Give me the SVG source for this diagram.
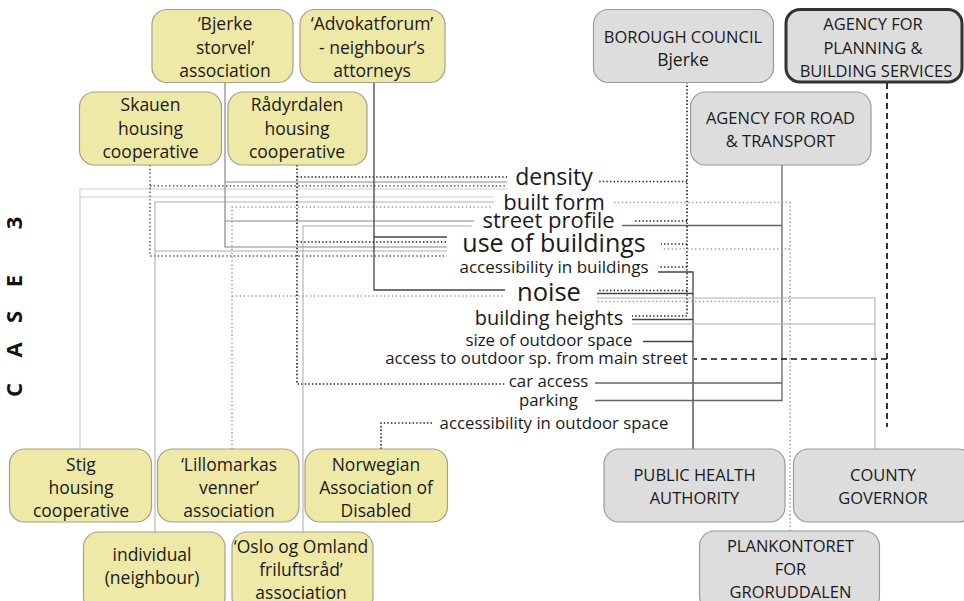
<svg xmlns="http://www.w3.org/2000/svg" width="964" height="601" viewBox="0 0 964 601">
<style>
.ny rect{fill:#efe9a8;stroke:#a3a08a;stroke-width:1.2}
.ng rect{fill:#dddddd;stroke:#9a9a9a;stroke-width:1.2}
.nt{font-family:"Open Sans","Noto Sans",sans-serif;font-size:17.5px;fill:#1a1a1a;text-anchor:middle}
.nu{font-family:"Open Sans","Noto Sans",sans-serif;font-size:16.5px;fill:#1a1a1a;text-anchor:middle}
.lb{font-family:"Open Sans","Noto Sans",sans-serif;fill:#1a1a1a;text-anchor:middle}
#conn path{fill:none}
.cd{stroke:#444;stroke-width:1.3}
.cr{stroke:#666;stroke-width:1.3}
.cm{stroke:#888;stroke-width:1.2}
.cl{stroke:#b0b0b0;stroke-width:1.1}
.cv{stroke:#cdcdcd;stroke-width:1.1}
.dd{stroke:#222;stroke-width:1.7;stroke-dasharray:1.4 2.2}
.ds{stroke:#555;stroke-width:1.5;stroke-dasharray:1.4 2.4}
.dg{stroke:#999;stroke-width:1.5;stroke-dasharray:1.3 2.6}
.dh{stroke:#111;stroke-width:1.7;stroke-dasharray:6 4}
</style>

<text font-family="'Open Sans','Noto Sans',sans-serif" font-weight="bold" font-size="22" fill="#111" transform="rotate(-90)" y="22" text-anchor="middle"><tspan x="-390">C</tspan><tspan x="-350">A</tspan><tspan x="-317">S</tspan><tspan x="-281">E</tspan><tspan x="-223">3</tspan></text>

<g id="conn">
  <!-- Stig -->
  <path class="cv" d="M80,449 V189 H508 M80,197 H494"/>
  <!-- Skauen -->
  <path class="ds" d="M150,165 V256 H447 M150,186 H507"/>
  <!-- individual -->
  <path class="cl" d="M155,532 V202 H494 M155,251 H447"/>
  <!-- Bjerke storvel -->
  <path class="cm" d="M225,82 V247 H447 M225,182 H507 M225,221 H474"/>
  <!-- Lillomarkas -->
  <path class="dg" d="M232,449 V207 H492 M232,296 H505"/>
  <!-- Radyrdalen -->
  <path class="dd" d="M297,165 V384 H505 M297,177 H507 M297,242 H447"/>
  <!-- Oslo og Omland -->
  <path class="cl" d="M303,532 V226 H472"/>
  <!-- Advokatforum -->
  <path class="cd" d="M374,82 V290 H505 M374,237 H447"/>
  <!-- Norwegian -->
  <path class="dd" d="M381,449 V423 H432"/>
  <!-- Borough council -->
  <path class="dd" d="M687,82 V316 H632 M687,181.5 H597 M687,221 H633 M687,244 H661 M687,267 H658 M687,290.5 H597"/>
  <!-- Public health -->
  <path class="cd" d="M693,449 V272 H658 M693,293.5 H597 M693,319.5 H632 M693,341.5 H643"/>
  <!-- Road & transport -->
  <path class="cr" d="M782,165 V400.5 H595 M782,225.5 H622 M782,383 H595"/>
  <!-- Plankontoret -->
  <path class="dg" d="M790,531 V202.5 H612 M790,249 H661 M790,301.5 H597"/>
  <!-- County governor -->
  <path class="cl" d="M875,449 V298 H597 M875,324 H632"/>
  <!-- Planning & building -->
  <path class="dh" d="M887,83 V427 M887,359 H694"/>
</g>

<g class="lb">
  <text x="554" y="185" font-size="23">density</text>
  <text x="554" y="210" font-size="22">built form</text>
  <text x="548.5" y="228" font-size="22">street profile</text>
  <text x="554" y="252" font-size="25">use of buildings</text>
  <text x="554" y="273" font-size="17">accessibility in buildings</text>
  <text x="549" y="301" font-size="25.5">noise</text>
  <text x="549" y="325" font-size="20">building heights</text>
  <text x="549" y="346" font-size="16.8">size of outdoor space</text>
  <text x="536.5" y="364" font-size="16.8">access to outdoor sp. from main street</text>
  <text x="548.5" y="387" font-size="16.8">car access</text>
  <text x="548.5" y="406" font-size="16.8">parking</text>
  <text x="554" y="429" font-size="16.8">accessibility in outdoor space</text>
</g>

<g id="n-bjerke" class="ny"><rect x="152" y="9.5" width="141" height="73" rx="15"/>
  <text class="nt" x="225" y="30">‘Bjerke</text><text class="nt" x="225" y="53.5">storvel’</text><text class="nt" x="225" y="77">association</text></g>
<g id="n-advokat" class="ny"><rect x="300" y="9.5" width="145" height="73" rx="15"/>
  <text class="nt" x="372" y="30">‘Advokatforum’</text><text class="nt" x="372" y="53.5">- neighbour’s</text><text class="nt" x="372" y="77">attorneys</text></g>
<g id="n-skauen" class="ny"><rect x="79.5" y="92" width="142" height="73" rx="15"/>
  <text class="nt" x="150.5" y="111">Skauen</text><text class="nt" x="150.5" y="134.5">housing</text><text class="nt" x="150.5" y="158">cooperative</text></g>
<g id="n-radyrdalen" class="ny"><rect x="228" y="92" width="139" height="73" rx="15"/>
  <text class="nt" x="297" y="111">Rådyrdalen</text><text class="nt" x="297" y="134.5">housing</text><text class="nt" x="297" y="158">cooperative</text></g>
<g id="n-stig" class="ny"><rect x="9.5" y="449" width="142" height="73" rx="15"/>
  <text class="nt" x="81" y="471">Stig</text><text class="nt" x="81" y="494">housing</text><text class="nt" x="81" y="517">cooperative</text></g>
<g id="n-lillomarkas" class="ny"><rect x="157.5" y="449" width="141.5" height="73" rx="15"/>
  <text class="nt" x="229" y="471">‘Lillomarkas</text><text class="nt" x="229" y="494">venner’</text><text class="nt" x="229" y="517">association</text></g>
<g id="n-norwegian" class="ny"><rect x="305" y="449" width="142.5" height="73" rx="15"/>
  <text class="nt" x="376" y="471">Norwegian</text><text class="nt" x="376" y="494">Association of</text><text class="nt" x="376" y="517">Disabled</text></g>
<g id="n-individual" class="ny"><rect x="83.5" y="532" width="141.5" height="80" rx="15"/>
  <text class="nt" x="152" y="561">individual</text><text class="nt" x="152" y="584">(neighbour)</text></g>
<g id="n-oslo" class="ny"><rect x="232" y="532" width="141" height="80" rx="15"/>
  <text class="nt" x="301" y="553">‘Oslo og Omland</text><text class="nt" x="301" y="576">friluftsråd’</text><text class="nt" x="301" y="599">association</text></g>

<g id="n-borough" class="ng"><rect x="593.5" y="9.5" width="180" height="73" rx="15"/>
  <text class="nu" x="683" y="43">BOROUGH COUNCIL</text><text class="nt" x="683" y="66">Bjerke</text></g>
<g id="n-planning"><rect x="786" y="9.5" width="176" height="72.5" rx="14" fill="#dddddd" stroke="#333" stroke-width="3"/>
  <text class="nu" x="873" y="30">AGENCY FOR</text><text class="nu" x="873" y="53.5">PLANNING &amp;</text><text class="nu" x="876" y="77">BUILDING  SERVICES</text></g>
<g id="n-road" class="ng"><rect x="690.5" y="92" width="180.5" height="73" rx="15"/>
  <text class="nu" x="780.5" y="124">AGENCY FOR ROAD</text><text class="nu" x="780.5" y="147">&amp; TRANSPORT</text></g>
<g id="n-health" class="ng"><rect x="604" y="449" width="181" height="73" rx="15"/>
  <text class="nu" x="694.5" y="481">PUBLIC HEALTH</text><text class="nu" x="694.5" y="503.5">AUTHORITY</text></g>
<g id="n-county" class="ng"><rect x="793.5" y="449" width="180" height="73" rx="15"/>
  <text class="nu" x="883" y="481">COUNTY</text><text class="nu" x="883" y="503.5">GOVERNOR</text></g>
<g id="n-plankontoret" class="ng"><rect x="699.5" y="531" width="180" height="80" rx="15"/>
  <text class="nu" x="790.5" y="551.5">PLANKONTORET</text><text class="nu" x="790.5" y="575">FOR</text><text class="nu" x="790.5" y="598">GRORUDDALEN</text></g>
</svg>
